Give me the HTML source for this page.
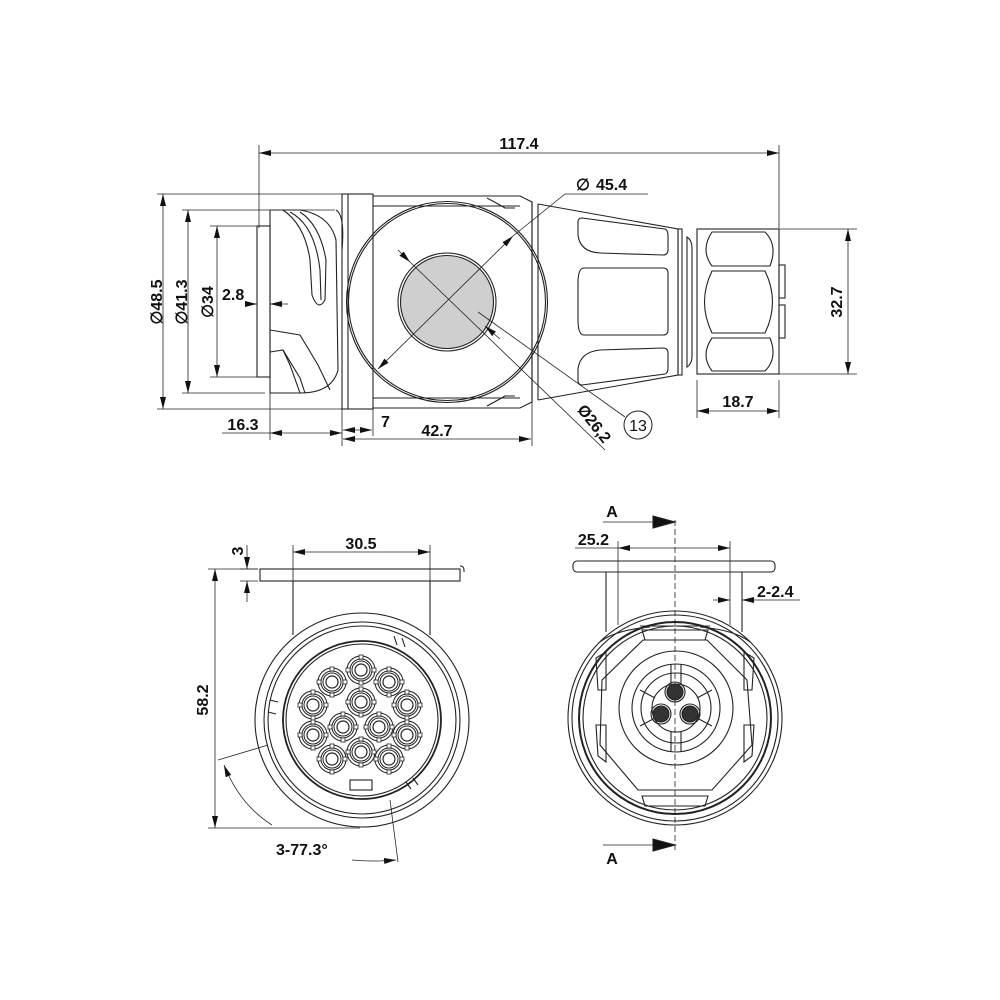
<!DOCTYPE html>
<html><head><meta charset="utf-8"><style>
html,body{margin:0;padding:0;background:#fff;}
svg{display:block;}
text{font-family:"Liberation Sans",Arial,sans-serif;font-size:16px;fill:#111;font-weight:bold;}
</style></head><body>
<svg width="1000" height="1000" viewBox="0 0 1000 1000" xmlns="http://www.w3.org/2000/svg">
<defs>
<marker id="a" viewBox="0 0 12 6" refX="12" refY="3" markerWidth="12" markerHeight="6" orient="auto-start-reverse" markerUnits="userSpaceOnUse"><path d="M0,0 L12,3 L0,6 z" fill="#111"/></marker>
<g id="pin">
<circle r="14" fill="#fff" stroke="#222" stroke-width="1"/>
<circle r="11" fill="none" stroke="#222" stroke-width="1"/>
<circle r="9" fill="none" stroke="#222" stroke-width="1"/>
<circle r="6" fill="#fff" stroke="#222" stroke-width="1.2"/>
<rect x="-2" y="-15" width="4" height="4" fill="#fff" stroke="#222" stroke-width="0.8"/>
<rect x="-2" y="11" width="4" height="4" fill="#fff" stroke="#222" stroke-width="0.8"/>
<rect x="-15" y="-2" width="4" height="4" fill="#fff" stroke="#222" stroke-width="0.8"/>
<rect x="11" y="-2" width="4" height="4" fill="#fff" stroke="#222" stroke-width="0.8"/>
</g>
</defs>
<g fill="none" stroke="#222" stroke-width="1.1">
<line x1="259" y1="145" x2="259" y2="228" stroke-width="0.8"/>
<line x1="779" y1="145" x2="779" y2="228" stroke-width="0.8"/>
<line x1="259" y1="153" x2="779" y2="153" stroke-width="0.8" marker-start="url(#a)" marker-end="url(#a)"/>
<g stroke-width="0.8">
<line x1="157" y1="194" x2="345" y2="194"/>
<line x1="157" y1="409" x2="345" y2="409"/>
<line x1="182" y1="210" x2="335" y2="210"/>
<line x1="182" y1="393" x2="265" y2="393"/>
<line x1="210" y1="226" x2="257" y2="226"/>
<line x1="210" y1="377" x2="257" y2="377"/>
<line x1="163" y1="194" x2="163" y2="409" marker-start="url(#a)" marker-end="url(#a)"/>
<line x1="188" y1="210" x2="188" y2="393" marker-start="url(#a)" marker-end="url(#a)"/>
<line x1="217" y1="226" x2="217" y2="377" marker-start="url(#a)" marker-end="url(#a)"/>
<line x1="245" y1="304" x2="257" y2="304" marker-end="url(#a)"/>
<line x1="288" y1="304" x2="270" y2="304" marker-end="url(#a)"/>
</g>
<rect x="257" y="226" width="13" height="151"/>
<line x1="270" y1="210" x2="270" y2="393"/>
<path d="M270,210 L300,210 Q330,215 336,240 L338,370 Q332,393 300,393 L270,393"/>
<path d="M283,210 Q305,225 310,260 L312,295 Q318,312 325,300 L326,260 Q320,225 300,212"/>
<path d="M290,212 Q315,225 320,270 L321,300"/>
<path d="M270,330 L300,335 L318,365 L330,390"/>
<path d="M270,352 L283,350 L300,378 L305,393"/>
<path d="M283,350 L290,365 L300,393"/>
<path d="M336,210 Q345,215 342,250"/>
<rect x="342" y="194" width="31" height="215"/>
<line x1="348" y1="194" x2="348" y2="409"/>
<path d="M373,196 L520,196 L532,202 L532,402 L520,408 L373,408"/>
<line x1="373" y1="206" x2="520" y2="206"/>
<line x1="373" y1="398" x2="520" y2="398"/>
<path d="M487,198 Q500,205 505,208 L515,208"/>
<path d="M487,406 Q500,399 505,396 L515,396"/>
<circle cx="447" cy="302" r="100.5"/>
<circle cx="447" cy="302" r="98.5"/>
<circle cx="447" cy="302" r="49" fill="#fff"/>
<circle cx="447" cy="302" r="46.5" fill="#cfcfcf"/>
<line x1="532" y1="202" x2="532" y2="402"/>
<line x1="538" y1="204" x2="538" y2="400"/>
<path d="M538,204 L678,229 L678,375 L538,400"/>
<path d="M582,218 L665,229 Q668,230 668,236 L668,250 Q668,255 663,255 L600,253 Q580,252 578,235 L578,222 Q578,218 582,218 z"/>
<path d="M584,268 L663,268 Q668,268 668,273 L668,330 Q668,335 663,335 L584,335 Q578,335 578,320 L578,283 Q578,268 584,268 z"/>
<path d="M600,350 L663,348 Q668,348 668,353 L668,368 Q668,373 665,374 L582,385 Q578,385 578,380 L578,369 Q580,352 600,350 z"/>
<rect x="678" y="229" width="4" height="146"/>
<path d="M687,237 Q692,240 692,248 L692,356 Q692,364 687,367 Z"/>
<rect x="697" y="229" width="82" height="145"/>
<path d="M712,232 L765,232 Q778,245 770,266 L712,266 Q700,250 712,232 z"/>
<path d="M712,271 L765,271 Q780,302 765,333 L712,333 Q697,302 712,271 z"/>
<path d="M712,338 L770,338 Q778,358 765,371 L712,371 Q700,355 712,338 z"/>
<rect x="779" y="265" width="6" height="33"/>
<rect x="779" y="305" width="6" height="33"/>
<g stroke-width="0.8">
<line x1="779" y1="229" x2="857" y2="229"/>
<line x1="779" y1="374" x2="857" y2="374"/>
<line x1="848" y1="229" x2="848" y2="374" marker-start="url(#a)" marker-end="url(#a)"/>
<line x1="697" y1="380" x2="697" y2="418"/>
<line x1="779" y1="380" x2="779" y2="418"/>
<line x1="697" y1="411" x2="779" y2="411" marker-start="url(#a)" marker-end="url(#a)"/>
<polyline points="648,194 565,194 513,236"/>
<line x1="513" y1="236" x2="378" y2="369" marker-start="url(#a)" marker-end="url(#a)"/>
<line x1="398" y1="250" x2="410" y2="262" marker-end="url(#a)"/>
<line x1="410" y1="262" x2="605" y2="450"/>
<line x1="500" y1="339" x2="485" y2="326" marker-end="url(#a)"/>
<line x1="478" y1="312" x2="625" y2="417"/>
<line x1="270" y1="393" x2="270" y2="440"/>
<line x1="342" y1="409" x2="342" y2="446"/>
<line x1="373" y1="409" x2="373" y2="436"/>
<line x1="532" y1="402" x2="532" y2="446"/>
<line x1="222" y1="433" x2="270" y2="433"/>
<line x1="270" y1="433" x2="342" y2="433" marker-start="url(#a)" marker-end="url(#a)"/>
<line x1="343" y1="430" x2="372" y2="430" marker-start="url(#a)" marker-end="url(#a)"/>
<line x1="343" y1="439" x2="531" y2="439" marker-start="url(#a)" marker-end="url(#a)"/>
</g>
<circle cx="638" cy="425" r="14" stroke-width="1"/>

<rect x="260" y="569" width="200" height="12"/>
<path d="M460,566 Q464,566 464,570 L464,572"/>
<line x1="293" y1="581" x2="293" y2="635"/>
<line x1="430" y1="581" x2="430" y2="635"/>
<g stroke-width="0.8">
<line x1="293" y1="545" x2="293" y2="581"/>
<line x1="430" y1="545" x2="430" y2="581"/>
<line x1="293" y1="552" x2="430" y2="552" marker-start="url(#a)" marker-end="url(#a)"/>
<line x1="240" y1="569" x2="258" y2="569"/>
<line x1="240" y1="581" x2="258" y2="581"/>
<line x1="247" y1="545" x2="247" y2="569" marker-end="url(#a)"/>
<line x1="247" y1="602" x2="247" y2="581" marker-end="url(#a)"/>
<line x1="208" y1="569" x2="258" y2="569"/>
<line x1="208" y1="828" x2="360" y2="828"/>
<line x1="215" y1="569" x2="215" y2="828" marker-start="url(#a)" marker-end="url(#a)"/>
<line x1="218" y1="760" x2="268" y2="745"/>
<path d="M224,765 Q240,805 272,825" marker-start="url(#a)"/>
<line x1="390" y1="800" x2="398" y2="862"/>
<path d="M352,860 Q372,862 396,860" marker-end="url(#a)"/>
</g>
<circle cx="362" cy="720" r="107"/>
<circle cx="362" cy="720" r="98"/>
<circle cx="362" cy="720" r="94"/>
<circle cx="362" cy="720" r="79" stroke-width="1.8"/>
<circle cx="362" cy="720" r="76"/>
<path d="M270,700 L278,702 M268,712 L276,714 M394,636 L397,645 M402,638 L405,647 M413,778 L418,785 M406,782 L411,789"/>
<rect x="350" y="780" width="22" height="10"/>
<use href="#pin" x="361" y="670"/>
<use href="#pin" x="332" y="682"/>
<use href="#pin" x="389" y="682"/>
<use href="#pin" x="313" y="705"/>
<use href="#pin" x="361" y="702"/>
<use href="#pin" x="407" y="705"/>
<use href="#pin" x="343" y="727"/>
<use href="#pin" x="379" y="727"/>
<use href="#pin" x="313" y="735"/>
<use href="#pin" x="407" y="735"/>
<use href="#pin" x="332" y="759"/>
<use href="#pin" x="361" y="752"/>
<use href="#pin" x="389" y="759"/>

<line x1="675" y1="520" x2="675" y2="850" stroke-dasharray="6,3" stroke-width="0.8"/>
<line x1="603" y1="522" x2="675" y2="522" stroke-width="0.8" marker-end="url(#a)"/>
<path d="M653,516 L675,522 L653,528 z" fill="#111"/>
<line x1="603" y1="845" x2="675" y2="845" stroke-width="0.8" marker-end="url(#a)"/>
<path d="M653,839 L675,845 L653,851 z" fill="#111"/>
<rect x="573" y="561" width="202" height="11" rx="4"/>
<g stroke-width="0.8">
<line x1="618" y1="541" x2="618" y2="625"/>
<line x1="730" y1="541" x2="730" y2="625"/>
<line x1="575" y1="548" x2="618" y2="548"/>
<line x1="618" y1="548" x2="730" y2="548" marker-start="url(#a)" marker-end="url(#a)"/>
<line x1="713" y1="600" x2="730" y2="600" marker-end="url(#a)"/>
<line x1="800" y1="600" x2="742" y2="600" marker-end="url(#a)"/>
</g>
<line x1="606" y1="572" x2="606" y2="632"/>
<line x1="742" y1="572" x2="742" y2="632"/>
<circle cx="675" cy="718" r="107"/>
<circle cx="675" cy="718" r="103"/>
<circle cx="675" cy="718" r="96" stroke-width="2"/>
<circle cx="675" cy="718" r="92"/>
<path d="M650,627 Q615,630 600,642 M700,627 Q735,630 750,642"/>
<path d="M640,626 L710,626"/>
<polygon points="643,640 707,640 747,680 752,745 712,790 638,790 600,745 602,680"/>
<path d="M642,630 L708,630 L705,640 L645,640 z"/>
<path d="M642,796 L708,796 L705,806 L645,806 z"/>
<path d="M596,658 L606,652 L606,690 L598,690 z"/>
<path d="M596,725 L606,725 L606,762 L598,756 z"/>
<path d="M754,658 L744,652 L744,690 L752,690 z"/>
<path d="M754,725 L744,725 L744,762 L752,756 z"/>
<circle cx="676" cy="708" r="57"/>
<circle cx="676" cy="708" r="44"/>
<circle cx="676" cy="708" r="35"/>
<circle cx="676" cy="708" r="24"/>
<path d="M671,664 L671,684 M681,664 L681,684 M671,732 L671,752 M681,732 L681,752 M640,690 L655,698 M712,690 L697,698 M640,726 L655,718 M712,726 L697,718"/>
<circle cx="675" cy="692" r="8" fill="#333"/>
<circle cx="661" cy="714" r="8" fill="#333"/>
<circle cx="690" cy="714" r="8" fill="#333"/>
<circle cx="675" cy="692" r="10"/>
<circle cx="661" cy="714" r="10"/>
<circle cx="690" cy="714" r="10"/>
</g>
<text x="519" y="149" text-anchor="middle">117.4</text>
<text x="576" y="190">∅</text><text x="596" y="190">45.4</text>
<text x="162" y="302" text-anchor="middle" transform="rotate(-90 162 302)">∅48.5</text>
<text x="187" y="302" text-anchor="middle" transform="rotate(-90 187 302)">∅41.3</text>
<text x="213" y="302" text-anchor="middle" transform="rotate(-90 213 302)">∅34</text>
<text x="222" y="300">2.8</text>
<text x="243" y="430" text-anchor="middle">16.3</text>
<text x="381" y="427">7</text>
<text x="437" y="436" text-anchor="middle">42.7</text>
<text x="590" y="427" text-anchor="middle" transform="rotate(52 590 427)">Ø26,2</text>
<text x="638" y="431" text-anchor="middle" style="font-weight:normal">13</text>
<text x="846" y="302" text-anchor="middle" transform="rotate(-90 846 302)" dy="-4">32.7</text>
<text x="738" y="407" text-anchor="middle">18.7</text>
<text x="361" y="549" text-anchor="middle">30.5</text>
<text x="243" y="551" text-anchor="middle" transform="rotate(-90 243 551)">3</text>
<text x="212" y="700" text-anchor="middle" transform="rotate(-90 212 700)" dy="-4">58.2</text>
<text x="276" y="855">3-77.3°</text>
<text x="612" y="517" text-anchor="middle">A</text>
<text x="609" y="545" text-anchor="end">25.2</text>
<text x="757" y="597">2-2.4</text>
<text x="612" y="864" text-anchor="middle">A</text>
</svg>
</body></html>
